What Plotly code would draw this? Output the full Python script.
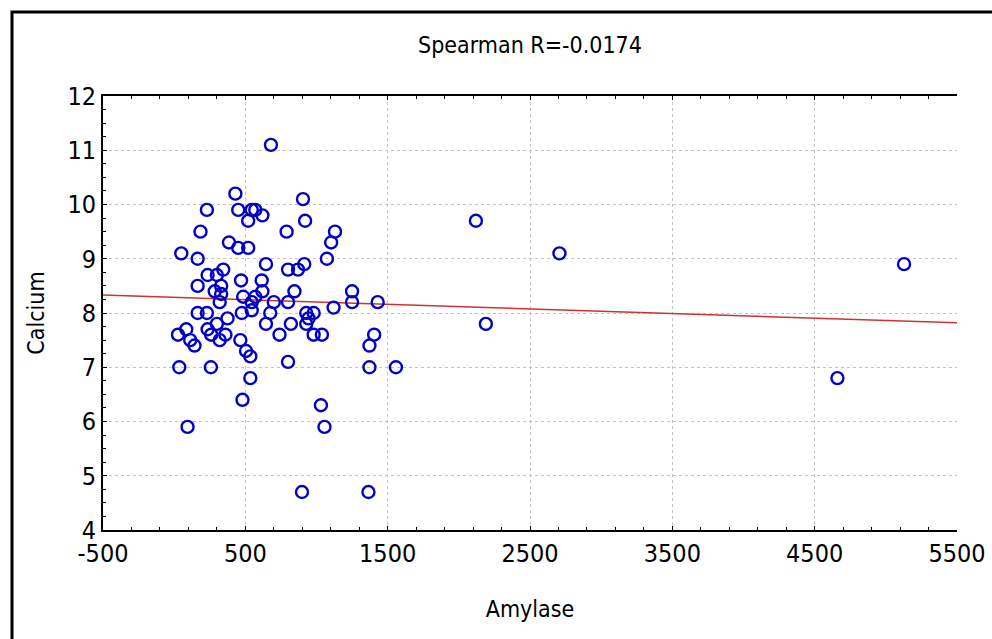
import plotly.graph_objects as go

# Data
amylase = [680, 430, 230, 450, 545, 570, 620, 520, 185, 790, 905, 385, 450, 520, 50, 165,
           645, 800, 870, 345, 235, 300, 470, 615, 165, 330, 285, 620, 845, 330, 320, 485,
           570, 545, 700, 800, 475, 545, 675, 165, 230, 375, 300, 645, 820, 235, 85, 27,
           260, 360, 320, 113, 143, 465, 740, 505, 535, 800, 36, 258, 535, 480, 94, 920,
           1130, 1103, 1073, 914, 1250, 2120, 1250, 1430, 1120, 928, 980, 944, 928, 980, 1038, 1405,
           1372, 1372, 1558, 1031, 1056, 898, 1365, 5128, 4660, 2707, 2190]
calcium = [11.1, 10.2, 9.9, 9.9, 9.9, 9.9, 9.8, 9.7, 9.5, 9.5, 10.1, 9.3, 9.2, 9.2, 9.1, 9.0,
           8.9, 8.8, 8.8, 8.8, 8.7, 8.7, 8.6, 8.6, 8.5, 8.5, 8.4, 8.4, 8.4, 8.35, 8.2, 8.3,
           8.3, 8.2, 8.2, 8.2, 8.0, 8.05, 8.0, 8.0, 8.0, 7.9, 7.8, 7.8, 7.8, 7.7, 7.7, 7.6,
           7.6, 7.6, 7.5, 7.5, 7.4, 7.5, 7.6, 7.3, 7.2, 7.1, 7.0, 7.0, 6.8, 6.4, 5.9, 9.7,
           9.5, 9.3, 9.0, 8.9, 8.4, 9.7, 8.2, 8.2, 8.1, 8.0, 8.0, 7.9, 7.8, 7.6, 7.6, 7.6,
           7.4, 7.0, 7.0, 6.3, 5.9, 4.7, 4.7, 8.9, 6.8, 9.1, 7.8]

fit_x = [-500, 5500]
fit_y = [8.33, 7.82]

x_tick_vals = [-500, 500, 1500, 2500, 3500, 4500, 5500]
x_tick_text = ["-500", "500", "1500", "2500", "3500", "4500", "5500"]
y_tick_vals = [4, 5, 6, 7, 8, 9, 10, 11, 12]
y_tick_text = ["4", "5", "6", "7", "8", "9", "10", "11", "12"]

title_text = "Spearman R=-0.0174"
x_title = "Amylase"
y_title = "Calcium"

FONT = "DejaVu Sans Condensed, Liberation Sans Narrow, Arial Narrow, sans-serif"

fig = go.Figure()
fig.add_trace(go.Scatter(
    x=fit_x, y=fit_y, mode="lines",
    line=dict(color="#CC3333", width=1.5),
    hoverinfo="skip", showlegend=False,
))
fig.add_trace(go.Scatter(
    x=amylase, y=calcium, mode="markers",
    marker=dict(symbol="circle-open", size=12, color="#0000C8", line=dict(width=2.4, color="#0000C8")),
    showlegend=False,
))

W, H = 992, 639
L, R, T, B = 103, 35, 96, 109

fig.update_layout(
    width=W, height=H,
    margin=dict(l=L, r=R, t=T, b=B, pad=0, autoexpand=False),
    paper_bgcolor="white", plot_bgcolor="white",
    font=dict(family=FONT, color="black", size=24),
    title=dict(text=title_text, x=(L + (W - L - R) / 2) / W, xanchor="center",
               y=1 - 45 / H, yanchor="middle", font=dict(size=23, family=FONT)),
)

fig.update_xaxes(
    range=[-500, 5500], tickmode="array", tickvals=x_tick_vals, ticktext=x_tick_text,
    automargin=False,
    showline=True, linecolor="black", linewidth=2, mirror="ticks",
    ticks="inside", ticklen=4, tickcolor="black", tickwidth=1,
    minor=dict(dtick=200, tick0=-500, ticks="inside", ticklen=3, tickcolor="black", showgrid=False),
    showgrid=True, gridcolor="#C4C4C4", griddash="dot", gridwidth=1,
    zeroline=False,
    tickfont=dict(size=25, family=FONT),
    title=dict(text=x_title, font=dict(size=23, family=FONT), standoff=34),
)
fig.update_yaxes(
    range=[4, 12], tickmode="array", tickvals=y_tick_vals, ticktext=y_tick_text,
    automargin=False,
    showline=True, linecolor="black", linewidth=2, mirror=False,
    ticks="inside", ticklen=4, tickcolor="black", tickwidth=1,
    minor=dict(dtick=0.25, tick0=4, ticks="inside", ticklen=3, tickcolor="black", showgrid=False),
    showgrid=True, gridcolor="#C4C4C4", griddash="dot", gridwidth=1,
    zeroline=False,
    tickfont=dict(size=25, family=FONT),
    title=dict(text=y_title, font=dict(size=23, family=FONT), standoff=16),
)

# outer black frame of the picture (clipped by the page edges)
pw, ph = W - L - R, H - T - B
fig.add_shape(type="rect", xref="paper", yref="paper",
              x0=(12 - L) / pw, x1=(W + 20 - L) / pw,
              y0=(H - B - (H + 20)) / ph, y1=(H - B - 12) / ph,
              line=dict(color="black", width=3), fillcolor="rgba(0,0,0,0)", layer="above")

fig.write_html("out.html")
